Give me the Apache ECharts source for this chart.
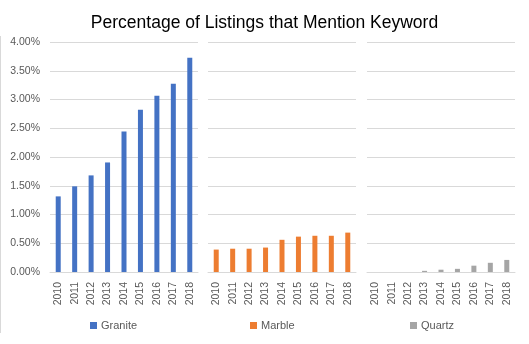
<!DOCTYPE html>
<html>
<head>
<meta charset="utf-8">
<script src="https://cdn.jsdelivr.net/npm/echarts@6/dist/echarts.min.js"></script>
<style>html,body{margin:0;padding:0;background:#fff}#c{width:529px;height:344px}</style>
</head>
<body>
<div id="c"></div>
<script>
const years = ['2010','2011','2012','2013','2014','2015','2016','2017','2018'];
const granite = [1.315, 1.49, 1.68, 1.905, 2.445, 2.82, 3.065, 3.275, 3.725];
const marble = [0.39, 0.405, 0.405, 0.425, 0.56, 0.615, 0.63, 0.63, 0.685];
const quartz = [0, 0, 0, 0.02, 0.04, 0.055, 0.11, 0.16, 0.21];
const yTicks = [0, 0.5, 1, 1.5, 2, 2.5, 3, 3.5, 4];

const FONT = 'Liberation Sans, Arial, sans-serif';
const grey = '#595959';
const gridColor = '#d9d9d9';
const panels = [
  {name: 'Granite', data: granite, color: '#4472c4', left: 50, legendLeft: 85},
  {name: 'Marble', data: marble, color: '#ed7d31', left: 208, legendLeft: 245},
  {name: 'Quartz', data: quartz, color: '#a5a5a5', left: 367, legendLeft: 405}
];

const chart = echarts.init(document.getElementById('c'), null, {renderer: 'canvas'});
chart.setOption({
  animation: false,
  backgroundColor: '#fff',
  title: {
    text: 'Percentage of Listings that Mention Keyword',
    left: 'center', top: 9,
    textStyle: {fontFamily: FONT, fontSize: 17.5, fontWeight: 'normal', color: '#000'}
  },
  graphic: [{
    type: 'line', shape: {x1: 0.5, y1: 36, x2: 0.5, y2: 333},
    style: {stroke: '#d9d9d9', lineWidth: 1}
  }],
  legend: panels.map(p => ({
    data: [p.name], left: p.legendLeft, top: 315,
    itemWidth: 7, itemHeight: 7, icon: 'rect', itemGap: 4,
    textStyle: {fontFamily: FONT, fontSize: 11, color: grey, padding: [0, 0, 0, -1]}
  })),
  grid: panels.map(p => ({left: p.left, width: 148, top: 42, height: 230})),
  xAxis: panels.map((p, i) => ({
    type: 'category', gridIndex: i, data: years,
    axisLine: {lineStyle: {color: gridColor}},
    axisTick: {show: false},
    axisLabel: {rotate: 90, fontFamily: FONT, fontSize: 10.5, color: grey, margin: 10, interval: 0}
  })),
  yAxis: panels.map((p, i) => ({
    type: 'value', gridIndex: i, min: yTicks[0], max: yTicks[yTicks.length - 1], interval: 0.5,
    axisLine: {show: false}, axisTick: {show: false},
    splitLine: {lineStyle: {color: gridColor, width: 1}},
    axisLabel: {show: i === 0, fontFamily: FONT, fontSize: 10.5, color: grey, margin: 10,
      formatter: v => v.toFixed(2) + '%'}
  })),
  series: panels.map((p, i) => ({
    name: p.name, type: 'bar', xAxisIndex: i, yAxisIndex: i,
    data: p.data, barWidth: 5, itemStyle: {color: p.color}
  }))
});
</script>
</body>
</html>
